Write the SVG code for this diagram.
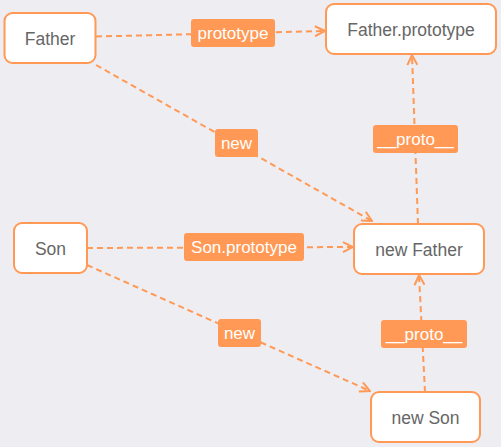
<svg xmlns="http://www.w3.org/2000/svg" width="501" height="447" viewBox="0 0 501 447">
<defs>
<style>
.node rect{fill:#fff;stroke:#ff9955;stroke-width:2}
.node text{font-family:"Liberation Sans",Arial,sans-serif;font-size:17.5px;fill:#666;text-anchor:middle;dominant-baseline:central}
.edge{fill:none;stroke:#ff9955;stroke-width:2;stroke-dasharray:6 4}
.lbl rect{fill:#ff9955}
.lbl text{font-family:"Liberation Sans",Arial,sans-serif;font-size:17px;fill:#fff;text-anchor:middle;dominant-baseline:central}
</style>
<marker id="arr" viewBox="0 0 12 12" refX="11" refY="6" markerWidth="12" markerHeight="12" markerUnits="userSpaceOnUse" orient="auto">
<path d="M1,1 L11,6 L1,11" fill="none" stroke="#ff9955" stroke-width="2"/>
</marker>
</defs>
<rect width="501" height="447" fill="#eeedf2"/>
<g id="connectors">
<path class="edge" d="M96,36.5 L325,31" marker-end="url(#arr)"/>
<path class="edge" d="M96,65 L372,221" marker-end="url(#arr)"/>
<path class="edge" d="M418,224 L412,55" marker-end="url(#arr)"/>
<path class="edge" d="M87,248 L353,247" marker-end="url(#arr)"/>
<path class="edge" d="M87,265 L370,391" marker-end="url(#arr)"/>
<path class="edge" d="M425,392 L419,275" marker-end="url(#arr)"/>
<g class="lbl"><rect x="191" y="19" width="84" height="28" rx="3"/><text x="233" y="33">prototype</text></g>
<g class="lbl"><rect x="215" y="129" width="43" height="28" rx="3"/><text x="236.5" y="143">new</text></g>
<g class="lbl"><rect x="373" y="125" width="85" height="28" rx="3"/><text x="415.5" y="139">__proto__</text></g>
<g class="lbl"><rect x="184" y="233" width="120" height="28" rx="3"/><text x="244" y="247">Son.prototype</text></g>
<g class="lbl"><rect x="218" y="319" width="43" height="28" rx="3"/><text x="239.5" y="333">new</text></g>
<g class="lbl"><rect x="381" y="320" width="86" height="28" rx="3"/><text x="424" y="334">__proto__</text></g>
</g>
<g id="father" class="node"><rect x="4.5" y="13" width="91" height="50" rx="8"/><text x="50" y="39">Father</text></g>
<g id="father-prototype" class="node"><rect x="326" y="4" width="170" height="50" rx="8"/><text x="411" y="30">Father.prototype</text></g>
<g id="new-father" class="node"><rect x="354" y="224" width="130" height="50" rx="8"/><text x="419" y="250">new Father</text></g>
<g id="son" class="node"><rect x="14" y="223" width="73" height="50" rx="8"/><text x="50.5" y="249">Son</text></g>
<g id="new-son" class="node"><rect x="371" y="392" width="109" height="50" rx="8"/><text x="425.5" y="418">new Son</text></g>
</svg>
